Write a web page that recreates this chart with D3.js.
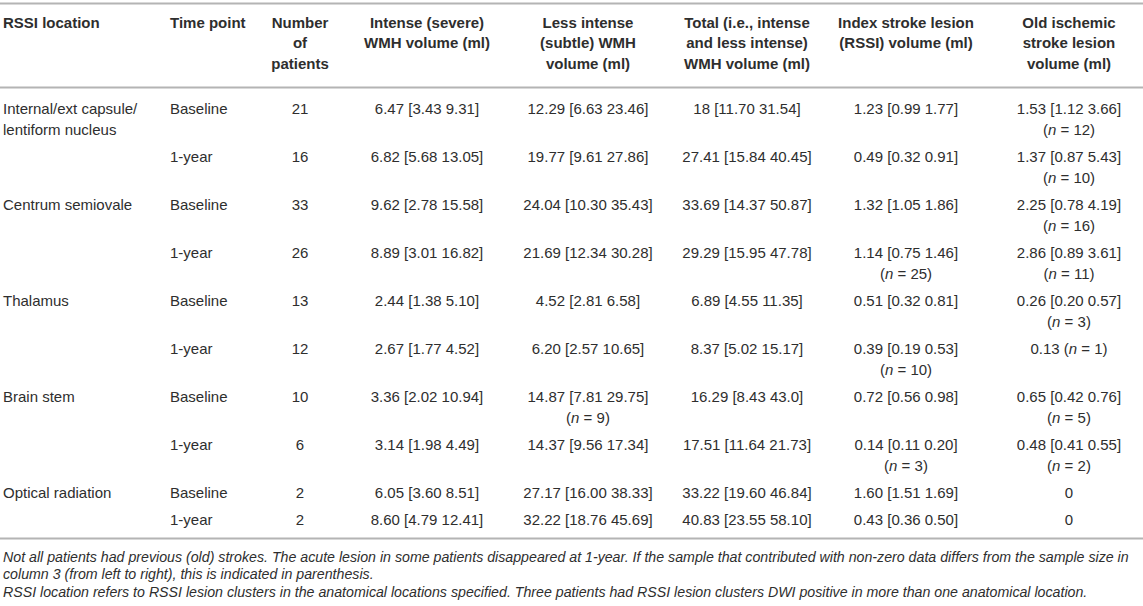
<!DOCTYPE html>
<html>
<head>
<meta charset="utf-8">
<script src="https://cdn.jsdelivr.net/npm/d3@7"></script>
<style>
  body { margin: 0; background: #fff; }
</style>
</head>
<body>
<div id="table"></div>
<script>
// column headers (one string per printed line)
const headers = [
    ["RSSI location"],
    ["Time point"],
    ["Number", "of", "patients"],
    ["Intense (severe)", "WMH volume (ml)"],
    ["Less intense", "(subtle) WMH", "volume (ml)"],
    ["Total (i.e., intense", "and less intense)", "WMH volume (ml)"],
    ["Index stroke lesion", "(RSSI) volume (ml)"],
    ["Old ischemic", "stroke lesion", "volume (ml)"]
];

const locations = [
    "Internal/ext capsule/\nlentiform nucleus", "",
    "Centrum semiovale", "",
    "Thalamus", "",
    "Brain stem", "",
    "Optical radiation", ""
];
const timePoints = ["Baseline", "1-year", "Baseline", "1-year", "Baseline", "1-year", "Baseline", "1-year", "Baseline", "1-year"];
const patients = ["21", "16", "33", "26", "13", "12", "10", "6", "2", "2"];
const intenseWMH = [
    "6.47 [3.43 9.31]", "6.82 [5.68 13.05]",
    "9.62 [2.78 15.58]", "8.89 [3.01 16.82]",
    "2.44 [1.38 5.10]", "2.67 [1.77 4.52]",
    "3.36 [2.02 10.94]", "3.14 [1.98 4.49]",
    "6.05 [3.60 8.51]", "8.60 [4.79 12.41]"
];
const lessIntenseWMH = [
    "12.29 [6.63 23.46]", "19.77 [9.61 27.86]",
    "24.04 [10.30 35.43]", "21.69 [12.34 30.28]",
    "4.52 [2.81 6.58]", "6.20 [2.57 10.65]",
    "14.87 [7.81 29.75]\n(n = 9)", "14.37 [9.56 17.34]",
    "27.17 [16.00 38.33]", "32.22 [18.76 45.69]"
];
const totalWMH = [
    "18 [11.70 31.54]", "27.41 [15.84 40.45]",
    "33.69 [14.37 50.87]", "29.29 [15.95 47.78]",
    "6.89 [4.55 11.35]", "8.37 [5.02 15.17]",
    "16.29 [8.43 43.0]", "17.51 [11.64 21.73]",
    "33.22 [19.60 46.84]", "40.83 [23.55 58.10]"
];
const indexLesion = [
    "1.23 [0.99 1.77]", "0.49 [0.32 0.91]",
    "1.32 [1.05 1.86]", "1.14 [0.75 1.46]\n(n = 25)",
    "0.51 [0.32 0.81]", "0.39 [0.19 0.53]\n(n = 10)",
    "0.72 [0.56 0.98]", "0.14 [0.11 0.20]\n(n = 3)",
    "1.60 [1.51 1.69]", "0.43 [0.36 0.50]"
];
const oldLesion = [
    "1.53 [1.12 3.66]\n(n = 12)", "1.37 [0.87 5.43]\n(n = 10)",
    "2.25 [0.78 4.19]\n(n = 16)", "2.86 [0.89 3.61]\n(n = 11)",
    "0.26 [0.20 0.57]\n(n = 3)", "0.13 (n = 1)",
    "0.65 [0.42 0.76]\n(n = 5)", "0.48 [0.41 0.55]\n(n = 2)",
    "0", "0"
];

const footnotes = [
    "Not all patients had previous (old) strokes. The acute lesion in some patients disappeared at 1-year. If the sample that contributed with non-zero data differs from the sample size in",
    "column 3 (from left to right), this is indicated in parenthesis.",
    "RSSI location refers to RSSI lesion clusters in the anatomical locations specified. Three patients had RSSI lesion clusters DWI positive in more than one anatomical location."
];

const columns = [locations, timePoints, patients, intenseWMH, lessIntenseWMH, totalWMH, indexLesion, oldLesion];

// layout
const width = 1143, height = 606;
const font = "'Liberation Sans', Arial, Helvetica, sans-serif";
const textColor = "#2e2e2e";
const ruleColor = "#b4b4b4";
const lineH = 20.7;
const colX = [3, 170, 300, 427, 588, 747, 906, 1069];
const colAnchor = ["start", "start", "middle", "middle", "middle", "middle", "middle", "middle"];

const svg = d3.select("#table")
    .append("svg")
    .attr("width", width)
    .attr("height", height)
    .style("font-family", font)
    .style("display", "block");

// row heights from the number of lines in each row
const nRows = timePoints.length;
const rowLines = d3.range(nRows).map(i => d3.max(columns, c => c[i].split("\n").length));
const rowH = rowLines.map(n => n * 21 + 6);
const headerTop = 3.5, headerLine = 87.5;
const rowTops = [headerLine + 6, ...Array.from(d3.cumsum(rowH)).map(v => headerLine + 6 + v)];
const bottomLine = rowTops[nRows] + 7;

function addLine(textSel, line) {
    const m = line.match(/^(.*\()n( = .*)$/);
    if (m) {
        textSel.append("tspan").text(m[1]);
        textSel.append("tspan").attr("font-style", "italic").text("n");
        textSel.append("tspan").text(m[2]);
    } else {
        textSel.append("tspan").text(line);
    }
}

// rules
[headerTop, headerLine, bottomLine].forEach(y => {
    svg.append("line")
        .attr("x1", 0).attr("x2", width)
        .attr("y1", y).attr("y2", y)
        .attr("stroke", ruleColor)
        .attr("stroke-width", 2);
});

// header
const headG = svg.append("g");
headers.forEach((lines, ci) => {
    lines.forEach((ln, li) => {
        headG.append("text")
            .attr("x", colX[ci])
            .attr("y", 27.5 + li * lineH)
            .attr("text-anchor", colAnchor[ci])
            .attr("font-size", "15px")
            .attr("font-weight", "bold")
            .attr("fill", textColor)
            .text(ln);
    });
});

// body
const bodyG = svg.append("g");
columns.forEach((col, ci) => {
    col.forEach((val, ri) => {
        if (!val) return;
        val.split("\n").forEach((ln, li) => {
            const t = bodyG.append("text")
                .attr("x", colX[ci])
                .attr("y", rowTops[ri] + 20.5 + li * 21)
                .attr("text-anchor", colAnchor[ci])
                .attr("font-size", "15px")
                .attr("fill", textColor);
            addLine(t, ln);
        });
    });
});

// footnotes
const footY = [562, 579, 597];
footnotes.forEach((f, i) => {
    svg.append("text")
        .attr("x", 3)
        .attr("y", footY[i])
        .attr("font-size", "14.2px")
        .attr("font-style", "italic")
        .attr("fill", textColor)
        .text(f);
});
</script>
</body>
</html>
